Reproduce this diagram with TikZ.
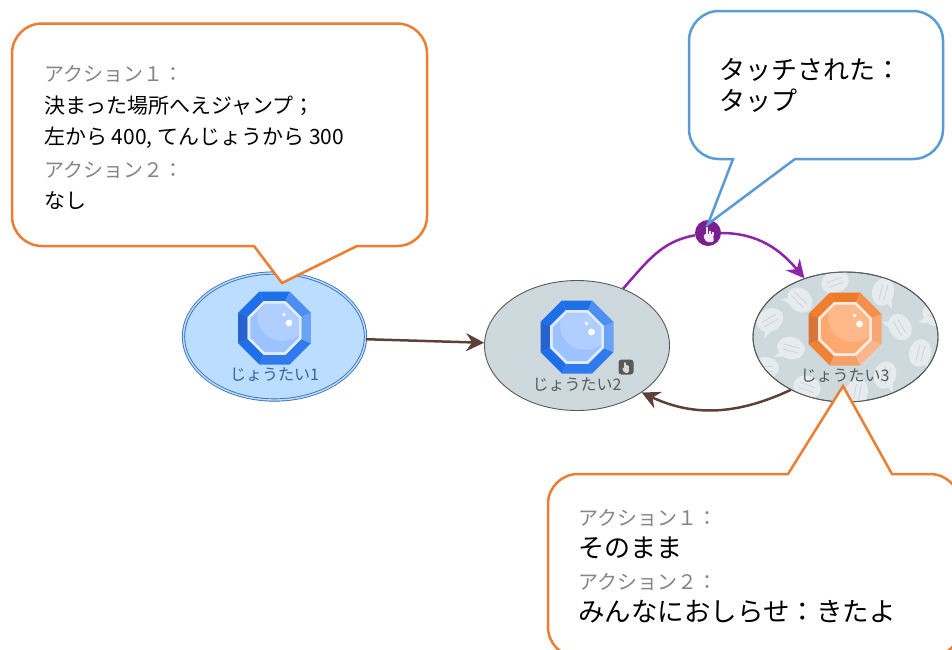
\documentclass[tikz,border=0pt]{standalone}
\usepackage{fontspec}
\setmainfont{Noto Sans CJK JP}
\usetikzlibrary{arrows.meta, positioning, shapes.geometric}

\definecolor{calloutorange}{HTML}{ED7D31}
\definecolor{calloutblue}{HTML}{5B9BD5}
\definecolor{stategrey}{HTML}{CDD9DD}
\definecolor{initblue}{HTML}{BBDDFF}
\definecolor{initline}{HTML}{3C74BC}
\definecolor{arrowbrown}{HTML}{5D4037}
\definecolor{arrowpurple}{HTML}{8E24AA}
% gem facets, going round from the upper left
\definecolor{blueA}{HTML}{1F6FE8}
\definecolor{blueB}{HTML}{1F6FE8}
\definecolor{blueC}{HTML}{2763D0}
\definecolor{blueD}{HTML}{1E6FE8}
\definecolor{blueE}{HTML}{2F7AEE}
\definecolor{blueF}{HTML}{2F7AEE}
\definecolor{blueG}{HTML}{6AA2F5}
\definecolor{blueH}{HTML}{4D8EF2}
\definecolor{blueRing}{HTML}{E2ECFF}
\definecolor{blueFill}{HTML}{9CC2FF}
\definecolor{blueShade}{HTML}{B0CEFF}
\definecolor{orangeA}{HTML}{EE7A2A}
\definecolor{orangeB}{HTML}{EF7F2E}
\definecolor{orangeC}{HTML}{D8743A}
\definecolor{orangeD}{HTML}{EE8236}
\definecolor{orangeE}{HTML}{F5A06A}
\definecolor{orangeF}{HTML}{FBB58A}
\definecolor{orangeG}{HTML}{F8A56F}
\definecolor{orangeH}{HTML}{F58F4B}
\definecolor{orangeRing}{HTML}{FFEBDD}
\definecolor{orangeFill}{HTML}{FFA970}
\definecolor{orangeShade}{HTML}{FFB88A}

\tikzset{
  state/.style={ellipse, draw=#1, fill=stategrey, line width=0.9pt, minimum width=185pt, minimum height=130pt, inner sep=0pt},
  state/.default={black!65},
  statelabel/.style={text=#1, font=\fontsize{16}{16}\selectfont, on grid},
  octa/.style={regular polygon, regular polygon sides=8, minimum size=#1, inner sep=0pt, outer sep=0pt},
  callout/.style={draw=#1, line width=2.5pt, fill=white},
  greytext/.style={text=black!48, anchor=west, inner sep=0pt, font=\fontsize{20}{20}\selectfont},
  blacktext/.style={anchor=west, inner sep=0pt, font=\fontsize{#1}{#1}\selectfont},
  trans/.style={-{Stealth[length=18pt,width=18pt,inset=6pt]}, line width=2.5pt},
  pics/gem/.style={code={
    \node[octa=79pt] (outer) at (0,0) {};
    \node[octa=58pt] (mid) at (0,0) {};
    \foreach \i/\j/\c in {1/2/A,2/3/B,3/4/C,4/5/D,5/6/E,6/7/F,7/8/G,8/1/H}
      \fill[#1\c] (outer.corner \i) -- (outer.corner \j) -- (mid.corner \j) -- (mid.corner \i) -- cycle;
    \node[octa=58pt, fill=#1Ring] at (0,0) {};
    \node[octa=52pt, fill=#1Fill] (inner) at (0,0) {};
    \begin{scope}
      \clip (inner.corner 1) -- (inner.corner 2) -- (inner.corner 3) -- (inner.corner 4) -- (inner.corner 5) -- (inner.corner 6) -- (inner.corner 7) -- (inner.corner 8) -- cycle;
      \fill[#1Shade] (8,-12) circle (25pt);
    \end{scope}
    \fill[white] (14.5,-5) circle (3.4pt);
    \fill[white] (9.5,-13.5) circle (1.9pt);
  }},
  pics/hand/.style={code={
    \fill[#1, rounded corners=1.5pt] (-3.5,-1) -- (3.5,-1) -- (4,6) -- (-2,6) -- (-5,1) -- cycle;
    \draw[#1, line width=2pt, line cap=round] (-1.5,0) -- (-1.5,-6);
    \draw[#1, line width=1.6pt, line cap=round] (1,0) -- (1,-3);
    \draw[#1, line width=1.6pt, line cap=round] (3.2,0) -- (3.2,-2);
  }}
}

\begin{document}
\begin{tikzpicture}[x=1pt, y=-1pt]
  \useasboundingbox (0,0) rectangle (952,649);

  \node[state=initline, fill=initblue, double=initblue, double distance=1.4pt, minimum width=182pt, minimum height=127pt] at (274.5,336.5) (S1) {};
  \node[state] at (577,345.5) (S2) {};
  \node[state] at (845.5,337) (S3) {};

  % bubbles of state 3
  \begin{scope}
    \clip (S3.center) ellipse (92pt and 64.5pt);
    \foreach \x/\y/\r in {835/282/20, 883/292/75, 800/300/-45, 770/320/30, 900/327/-60, 791/348/-15, 920/353/75, 885/375/70, 807/387/-20, 857/392/80, 936/315/-20, 765/368/0} {
      \begin{scope}[shift={(\x,\y)}, rotate=\r]
        \fill[white!50!stategrey] (0,0) ellipse (14pt and 11pt);
        \fill[white!50!stategrey] (-9,5) -- (-14,13) -- (-1,9) -- cycle;
        \draw[stategrey, line width=1pt] (-8,-2) -- (8,-2) (-8,3) -- (8,3);
      \end{scope}
    }
  \end{scope}
  \draw[black!65, line width=0.9pt] (S3.center) ellipse (92.5pt and 65pt);

  % gems
  \pic (G1) at (274.5,328) {gem=blue};
  \pic (G2) at (577,337) {gem=blue};
  \pic (G3) at (845,329) {gem=orange};

  \node[statelabel={initline!85!black}, below=47pt of G1outer] (L1) {じょうたい1};
  \node[statelabel={black!65}, below=48pt of G2outer] (L2) {じょうたい2};
  \node[statelabel={black!65}, below=47pt of G3outer] (L3) {じょうたい3};

  % badge on state 2
  \node[fill=black!65, rounded corners=3pt, minimum size=15pt, inner sep=0pt] at (626,367) (badge) {};
  \pic[scale=0.8] at (626,368) {hand=white!85!black};

  % transitions
  \node[circle, fill=arrowpurple!85!black, minimum size=26pt, inner sep=0pt] at (708,233) (tap) {};
  \pic[scale=1.2] at (709,235) {hand=white!90!arrowpurple};
  \draw[trans, arrowbrown] (S1) -- (S2);
  \draw[line width=2.5pt, arrowpurple] (S2.51) to[out=48, in=190] (tap);
  \draw[trans, arrowpurple] (tap) to[out=0, in=130] (S3.125);
  \draw[trans, arrowbrown] (S3.224) to[out=205, in=-25] (S2.-36);

  % callouts
  \draw[callout=calloutorange]
    (200,23.5) [rounded corners=30pt] -- (427,23.5) -- (427,246) [sharp corners] -- (357,246) -- (282,283) -- (254,246) [rounded corners=30pt] -- (12,246) -- (12,23.5) -- cycle;
  \draw[callout=calloutblue]
    (800,11) [rounded corners=30pt] -- (943,11) -- (943,159) [sharp corners] -- (795,159) -- (708,224) -- (733,159) [rounded corners=30pt] -- (689,159) -- (689,11) -- cycle;
  \draw[callout=calloutorange]
    (700,474) [sharp corners] -- (788,474) -- (843,386) -- (892,474) [rounded corners=30pt] -- (960,474) -- (960,657) -- (548,657) -- (548,474) -- cycle;

  % callout texts
  \node[greytext] at (44,74) (T1) {アクション１：};
  \node[blacktext=21] at (44,106) (T2) {決まった場所へえジャンプ；};
  \node[blacktext=21] at (44,138) (T3) {左から 400, てんじょうから 300};
  \node[greytext] at (44,170) (T4) {アクション２：};
  \node[blacktext=21] at (44,201) (T5) {なし};

  \node[blacktext=26] at (719,70) (T6) {タッチされた：};
  \node[blacktext=26] at (719,101) (T7) {タップ};

  \node[greytext] at (578,518) (T8) {アクション１：};
  \node[blacktext=26] at (578,548) (T9) {そのまま};
  \node[greytext] at (578,582) (T10) {アクション２：};
  \node[blacktext=26.5] at (578,612) (T11) {みんなにおしらせ：きたよ};
\end{tikzpicture}
\end{document}
